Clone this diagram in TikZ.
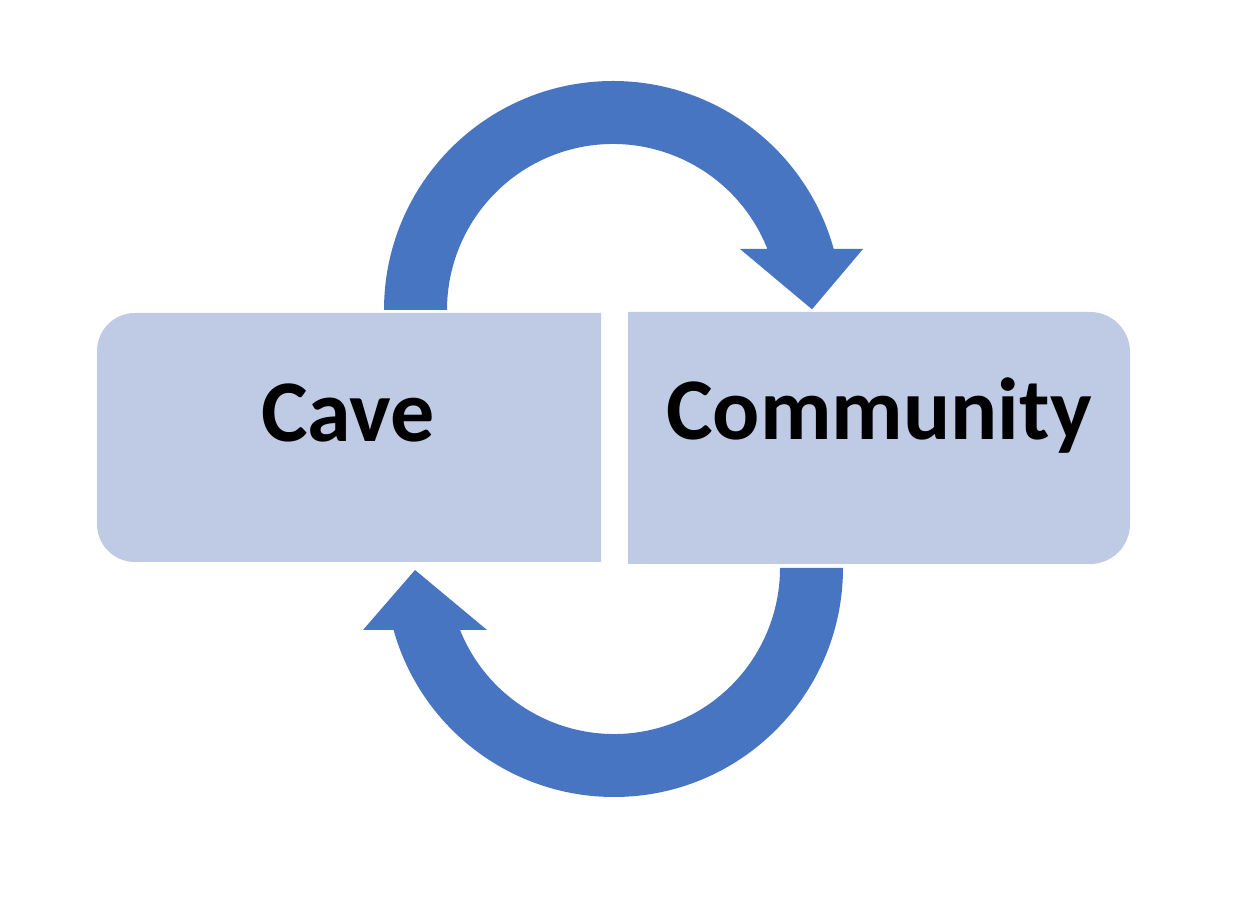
\documentclass[tikz,border=0pt]{standalone}
\usepackage{fontspec}
\setmainfont{Carlito}
\definecolor{boxfill}{HTML}{BFCAE4}
\definecolor{arrowblue}{HTML}{4775C1}
\tikzset{
  boxshape/.style={fill=boxfill, draw=none},
  bigarrow/.style={fill=arrowblue, draw=none},
  label/.style={font=\fontsize{88}{100}\selectfont\bfseries, text=black, inner sep=0pt, anchor=base}
}
\begin{document}
\begin{tikzpicture}[x=1pt,y=1pt]
\useasboundingbox[fill=white] (0,0) rectangle (1236,910);
% boxes
\fill[boxshape] (601,597) -- (135,597) arc[start angle=90,end angle=180,radius=38]
  -- (97,386) arc[start angle=180,end angle=270,radius=38] -- (601,348) -- cycle;
\fill[boxshape] (628,598) -- (1090,598) arc[start angle=90,end angle=0,radius=40]
  -- (1130,386) arc[start angle=0,end angle=-90,radius=40] -- (628,346) -- cycle;
% labels
\node[label] (cave) at (348,468.5) {Cave};
\node[label] (community) at (879,470) {Community};
% arc centres
\coordinate (ctop) at (613,600);
\coordinate (cbot) at (614,342);
% top arrow (Cave -> Community)
\fill[bigarrow] (384,600) arc[start angle=180,end angle=15.45,radius=229]
  -- (863,661) -- (812,600.7) -- (740,661)
  -- ([shift={(ctop)}]21.56:166) arc[start angle=21.56,end angle=180,radius=166] -- cycle;
% bottom arrow (Community -> Cave)
\fill[bigarrow] (843,342) arc[start angle=0,end angle=-164.3,radius=229]
  -- (363,280) -- (415,340) -- (487,280)
  -- ([shift={(cbot)}]-158.07:166) arc[start angle=-158.07,end angle=0,radius=166] -- cycle;
\end{tikzpicture}
\end{document}
